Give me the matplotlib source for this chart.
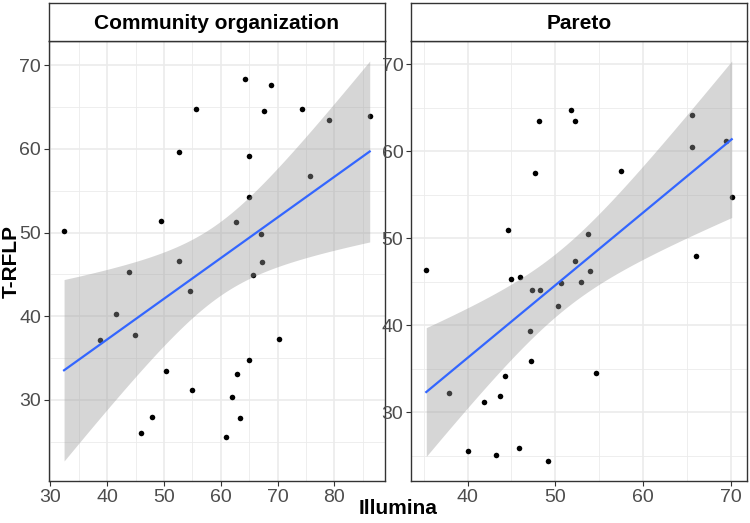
import numpy as np
import matplotlib
matplotlib.use("Agg")
import matplotlib.pyplot as plt
from matplotlib.ticker import MultipleLocator

plt.rcParams['font.family'] = ['Liberation Sans', 'DejaVu Sans']

# ------------------ DATA ------------------
panels = ["Community organization", "Pareto"]

comm_illumina = [64.3, 68.8, 55.6, 67.6, 74.2, 79.1, 86.2, 52.7, 64.9, 75.7,
                 64.9, 32.4, 49.5, 62.7, 67.1, 52.7, 67.2, 43.9, 65.7, 54.6,
                 41.6, 38.7, 44.9, 70.2, 65.0, 50.3, 62.8, 55.0, 61.9, 47.9,
                 63.4, 46.0, 60.9]
comm_trflp = [68.4, 67.6, 64.8, 64.5, 64.7, 63.4, 63.9, 59.6, 59.2, 56.7,
              54.3, 50.2, 51.4, 51.3, 49.8, 46.6, 46.5, 45.3, 44.9, 43.0,
              40.3, 37.2, 37.7, 37.3, 34.8, 33.4, 33.1, 31.2, 30.3, 28.0,
              27.9, 26.1, 25.6]

pareto_illumina = [51.8, 52.3, 48.1, 65.6, 65.6, 69.5, 47.7, 57.5, 70.1, 44.6,
                   53.7, 66.0, 35.3, 52.2, 53.9, 45.0, 46.0, 50.7, 52.9, 47.4,
                   48.3, 50.3, 47.1, 47.2, 54.6, 44.3, 37.9, 43.7, 41.9, 40.1,
                   43.3, 45.9, 49.2]
pareto_trflp = [64.8, 63.5, 63.5, 64.2, 60.5, 61.2, 57.5, 57.7, 54.8, 50.9,
                50.5, 48.0, 46.4, 47.4, 46.2, 45.3, 45.6, 44.9, 45.0, 44.0,
                44.0, 42.2, 39.3, 35.9, 34.5, 34.2, 32.2, 31.9, 31.2, 25.6,
                25.1, 25.9, 24.4]

x_major = [10, 10]
T_975_DF31 = 2.0395  # t quantile for 95% CI, n = 33


# ------------------ LM + CI (like geom_smooth(method = "lm")) ------------------
def lm_band(x, y, n=80):
    x = np.asarray(x, float)
    y = np.asarray(y, float)
    X = np.column_stack([np.ones_like(x), x])
    beta, *_ = np.linalg.lstsq(X, y, rcond=None)
    resid = y - X @ beta
    dof = len(x) - 2
    s2 = resid @ resid / dof
    xtx_inv = np.linalg.inv(X.T @ X)
    xs = np.linspace(x.min(), x.max(), n)
    Xs = np.column_stack([np.ones_like(xs), xs])
    fit = Xs @ beta
    se = np.sqrt(s2 * np.einsum("ij,jk,ik->i", Xs, xtx_inv, Xs))
    return xs, fit, fit - T_975_DF31 * se, fit + T_975_DF31 * se


# ------------------ PLOT ------------------
fig = plt.figure(figsize=(7.5, 5.23), dpi=100)

panel_boxes = [(48.8, 385.0), (411.0, 747.0)]
W, H = 750.0, 523.0
p_bottom = 1 - 481 / H
p_top = 1 - 41 / H
s_top = 1 - 3.3 / H

data = [(comm_illumina, comm_trflp), (pareto_illumina, pareto_trflp)]

for i, ((x0, x1), (xs_, ys_)) in enumerate(zip(panel_boxes, data)):
    ax = fig.add_axes([x0 / W, p_bottom, (x1 - x0) / W, p_top - p_bottom])
    ax.scatter(xs_, ys_, s=16, color="black", zorder=3, linewidths=0)
    gx, fit, lo, hi = lm_band(xs_, ys_)
    ax.fill_between(gx, lo, hi, color="#999999", alpha=0.4, linewidth=0, zorder=4)
    ax.plot(gx, fit, color="#3366FF", lw=1.6, zorder=5)
    ax.margins(0.05)

    ax.xaxis.set_major_locator(MultipleLocator(x_major[i]))
    ax.xaxis.set_minor_locator(MultipleLocator(x_major[i] / 2))
    ax.yaxis.set_major_locator(MultipleLocator(10))
    ax.yaxis.set_minor_locator(MultipleLocator(5))
    ax.grid(which="major", color="#EBEBEB", lw=1.2, zorder=0)
    ax.grid(which="minor", color="#EBEBEB", lw=0.6, zorder=0)
    ax.set_axisbelow(True)
    ax.tick_params(which="major", length=3.5, width=0.8, color="#333333",
                   labelsize=14, labelcolor="#4D4D4D", pad=2)
    ax.tick_params(which="minor", length=0)
    for sp in ax.spines.values():
        sp.set_color("#333333")
        sp.set_linewidth(1.0)

    # strip
    sax = fig.add_axes([x0 / W, p_top, (x1 - x0) / W, s_top - p_top])
    sax.set_xticks([])
    sax.set_yticks([])
    for sp in sax.spines.values():
        sp.set_color("#333333")
        sp.set_linewidth(1.0)
    sax.text(0.5, 0.47, panels[i], ha="center", va="center",
             fontsize=15, fontweight="bold", color="black",
             transform=sax.transAxes)

fig.text((48.8 + 747) / 2 / W, 1 - 508 / H, "Illumina", ha="center", va="center",
         fontsize=15, fontweight="bold")
fig.text(11 / W, 1 - 261 / H, "T-RFLP", ha="center", va="center", rotation=90,
         fontsize=15, fontweight="bold")

fig.savefig("out.png", dpi=100)
